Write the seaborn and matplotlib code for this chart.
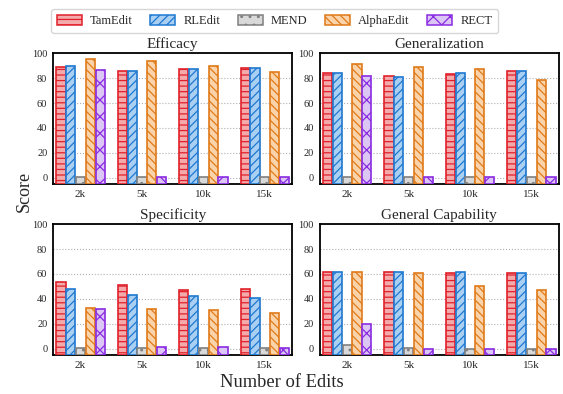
import matplotlib
matplotlib.use('Agg')
import matplotlib.pyplot as plt
from matplotlib.patches import Patch
import seaborn as sns
import pandas as pd

edits = ['2k', '5k', '10k', '15k']
methods = ['TamEdit', 'RLEdit', 'MEND', 'AlphaEdit', 'RECT']

# scores per metric, one list per method (order of edits)
efficacy = {
    'TamEdit': [88.9, 86.0, 87.5, 88.0],
    'RLEdit': [89.4, 86.0, 87.0, 88.3],
    'MEND': [0.8, 0.8, 0.8, 0.8],
    'AlphaEdit': [95.0, 94.0, 90.0, 85.0],
    'RECT': [86.5, 1.0, 1.0, 1.0],
}
generalization = {
    'TamEdit': [84.0, 81.7, 83.3, 86.0],
    'RLEdit': [84.3, 81.0, 83.8, 85.7],
    'MEND': [0.8, 0.8, 0.8, 0.8],
    'AlphaEdit': [91.5, 89.0, 87.0, 78.8],
    'RECT': [82.0, 1.0, 1.0, 1.0],
}
specificity = {
    'TamEdit': [53.5, 51.0, 47.3, 47.6],
    'RLEdit': [48.0, 43.4, 42.0, 41.0],
    'MEND': [0.5, 0.5, 0.5, 0.5],
    'AlphaEdit': [32.7, 32.0, 31.0, 28.7],
    'RECT': [32.2, 1.6, 1.6, 1.0],
}
general_cap = {
    'TamEdit': [61.6, 61.6, 60.5, 60.5],
    'RLEdit': [61.6, 61.6, 61.6, 60.5],
    'MEND': [3.2, 1.0, 0.2, 0.2],
    'AlphaEdit': [61.6, 61.0, 50.4, 47.5],
    'RECT': [20.0, 0.2, 0.2, 0.2],
}

panels = [('Efficacy', efficacy), ('Generalization', generalization),
          ('Specificity', specificity), ('General Capability', general_cap)]

face = {'TamEdit': '#f4a9ab', 'RLEdit': '#a9cff2', 'MEND': '#d9d9d9',
        'AlphaEdit': '#fbd3aa', 'RECT': '#dcc6f5'}
edge = {'TamEdit': '#e0202a', 'RLEdit': '#1f78d1', 'MEND': '#7f7f7f',
        'AlphaEdit': '#df7a18', 'RECT': '#8a2be2'}
hatch = {'TamEdit': '---', 'RLEdit': '////', 'MEND': '..',
         'AlphaEdit': '\\\\\\\\', 'RECT': 'xx'}

sns.set_style('white')
plt.rcParams['font.family'] = ['Liberation Serif', 'DejaVu Serif']
plt.rcParams['hatch.linewidth'] = 0.9

fig, axes = plt.subplots(2, 2, figsize=(5.63, 3.94), dpi=100)
plt.subplots_adjust(left=0.094, right=0.993, top=0.865, bottom=0.099,
                    wspace=0.113, hspace=0.306)

bottom = -5
for ax, (title, data) in zip(axes.flat, panels):
    rows = []
    for m in methods:
        for e, v in zip(edits, data[m]):
            rows.append({'Edits': e, 'Method': m, 'Score': v})
    df = pd.DataFrame(rows)
    sns.barplot(data=df, x='Edits', y='Score', hue='Method', order=edits,
                hue_order=methods, ax=ax, width=0.8, gap=0.06, legend=False,
                linewidth=1.2, zorder=3)
    for m, cont in zip(methods, ax.containers):
        for p in cont.patches:
            h = p.get_height()
            p.set_y(bottom)
            p.set_height(h - bottom)
            p.set_facecolor(face[m])
            p.set_edgecolor(edge[m])
            p.set_hatch(hatch[m])
    ax.set_ylim(bottom, 100)
    ax.set_xlim(-0.45, 3.45)
    ax.set_yticks([0, 20, 40, 60, 80, 100])
    ax.set_title(title, fontsize=11, pad=4)
    ax.set_xlabel('')
    ax.set_ylabel('')
    ax.yaxis.grid(True, linestyle=':', color='#b0b0b0', linewidth=0.8, zorder=0)
    ax.tick_params(axis='y', labelsize=7.5, length=2, pad=2)
    ax.tick_params(axis='x', labelsize=8, length=2, pad=2)
    for s in ax.spines.values():
        s.set_linewidth(1.3)
        s.set_color('black')

fig.text(0.043, 0.515, 'Score', rotation=90, ha='center', va='center', fontsize=13)
fig.text(0.5, 0.03, 'Number of Edits', ha='center', va='center', fontsize=13.3)

handles = [Patch(facecolor=face[m], edgecolor=edge[m], hatch=hatch[m],
                 linewidth=1.1, label=m) for m in methods]
fig.legend(handles=handles, loc='upper center', bbox_to_anchor=(0.488, 0.992),
           ncol=5, fontsize=9, frameon=True, handlelength=2.0, handleheight=0.8,
           columnspacing=1.4, handletextpad=0.65, borderpad=0.45,
           edgecolor='#cccccc', fancybox=True)

fig.savefig('out.png', dpi=100)
